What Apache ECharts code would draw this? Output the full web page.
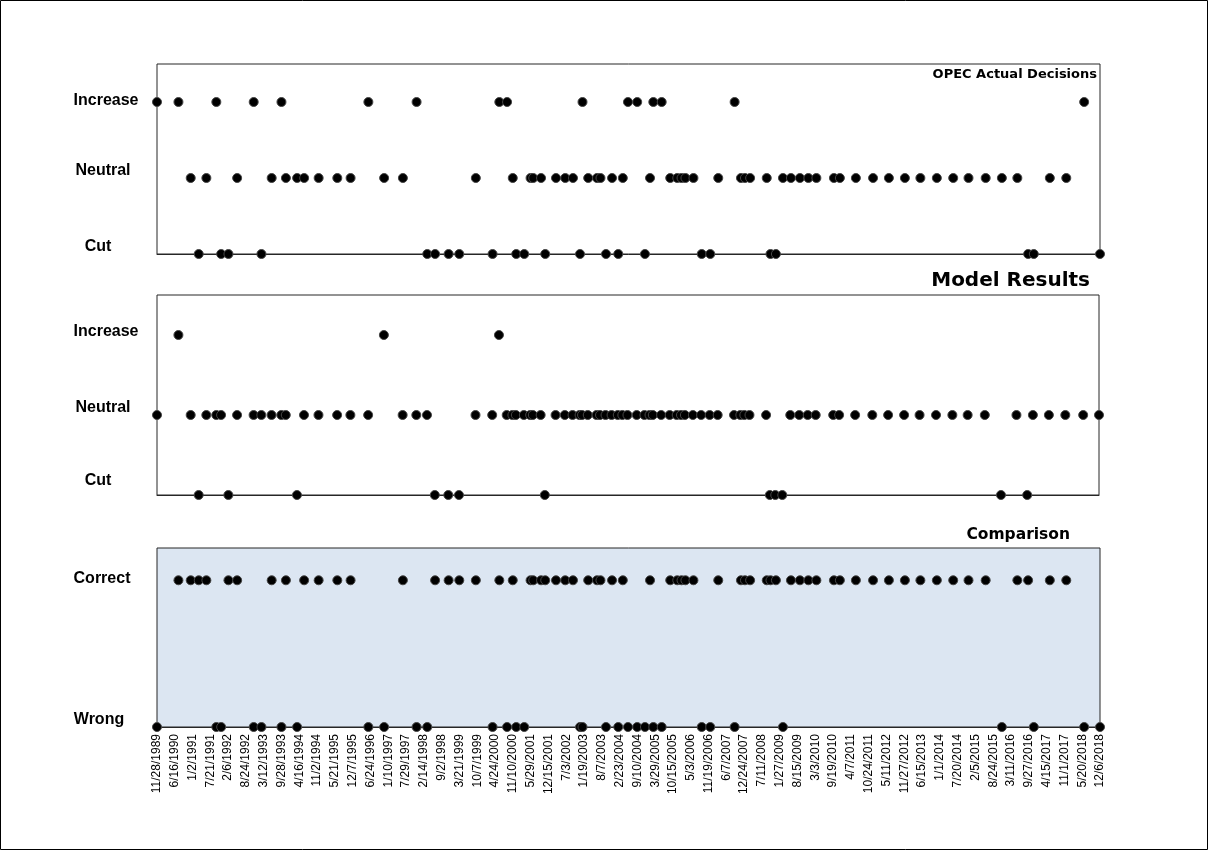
<!DOCTYPE html>
<html>
<head>
<meta charset="utf-8">
<script src="https://cdn.jsdelivr.net/npm/echarts@6.0.0/dist/echarts.min.js"></script>
<style>
  html, body { margin: 0; padding: 0; background: #fff; }
  #chart { width: 1209px; height: 851px; }
</style>
</head>
<body>
<div id="chart"></div>
<script>
// meeting dates (x positions)
const meetingDates = [
  '11/28/1989', '7/27/1990', '12/12/1990', '3/12/1991', '6/6/1991', '9/26/1991', '11/19/1991', '2/9/1992', '5/17/1992', '11/19/1992',
  '2/14/1993', '6/9/1993', '9/27/1993', '11/16/1993', '3/22/1994', '6/9/1994', '11/19/1994', '6/17/1995', '11/13/1995', '5/31/1996',
  '11/24/1996', '6/23/1997', '11/24/1997', '3/24/1998', '6/20/1998', '11/19/1998', '3/19/1999',
  '9/21/1999', '3/27/2000', '6/11/2000', '9/6/2000', '11/9/2000', '12/18/2000', '3/18/2001', '5/28/2001', '6/27/2001', '9/23/2001', '11/9/2001',
  '3/10/2002', '6/22/2002', '9/17/2002', '12/5/2002', '1/2/2003', '3/7/2003', '6/14/2003', '7/23/2003', '9/23/2003', '11/30/2003',
  '2/8/2004', '3/30/2004', '5/27/2004', '9/8/2004', '12/4/2004', '1/30/2005', '3/8/2005', '6/10/2005', '9/14/2005', '12/2/2005',
  '1/19/2006', '3/4/2006', '6/2/2006', '9/3/2006', '12/8/2006', '3/8/2007', '9/8/2007', '11/18/2007', '1/2/2008', '2/29/2008',
  '9/3/2008', '10/15/2008', '12/15/2008', '3/4/2009',
  '6/2/2009', '9/11/2009', '12/15/2009', '3/15/2010', '9/28/2010', '12/4/2010', '6/2/2011', '12/12/2011', '6/7/2012', '12/4/2012',
  '5/27/2013', '11/28/2013', '5/31/2014', '11/19/2014', '5/31/2015', '11/29/2015', '5/21/2016', '9/19/2016', '11/22/2016', '5/21/2017',
  '11/22/2017', '6/11/2018', '12/6/2018'
]

const actualDecisions = [
  'Increase', 'Increase', 'Neutral', 'Cut', 'Neutral', 'Increase', 'Cut', 'Cut', 'Neutral', 'Increase',
  'Cut', 'Neutral', 'Increase', 'Neutral', 'Neutral', 'Neutral', 'Neutral', 'Neutral', 'Neutral', 'Increase',
  'Neutral', 'Neutral', 'Increase', 'Cut', 'Cut', 'Cut', 'Cut',
  'Neutral', 'Cut', 'Increase', 'Increase', 'Neutral', 'Cut', 'Cut', 'Neutral', 'Neutral', 'Neutral', 'Cut',
  'Neutral', 'Neutral', 'Neutral', 'Cut', 'Increase', 'Neutral', 'Neutral', 'Neutral', 'Cut', 'Neutral',
  'Cut', 'Neutral', 'Increase', 'Increase', 'Cut', 'Neutral', 'Increase', 'Increase', 'Neutral', 'Neutral',
  'Neutral', 'Neutral', 'Neutral', 'Cut', 'Cut', 'Neutral', 'Increase', 'Neutral', 'Neutral', 'Neutral',
  'Neutral', 'Cut', 'Cut', 'Neutral',
  'Neutral', 'Neutral', 'Neutral', 'Neutral', 'Neutral', 'Neutral', 'Neutral', 'Neutral', 'Neutral', 'Neutral',
  'Neutral', 'Neutral', 'Neutral', 'Neutral', 'Neutral', 'Neutral', 'Neutral', 'Cut', 'Cut', 'Neutral',
  'Neutral', 'Increase', 'Cut'
]

const modelResults = [
  'Neutral', 'Increase', 'Neutral', 'Cut', 'Neutral', 'Neutral', 'Neutral', 'Cut', 'Neutral', 'Neutral',
  'Neutral', 'Neutral', 'Neutral', 'Neutral', 'Cut', 'Neutral', 'Neutral', 'Neutral', 'Neutral', 'Neutral',
  'Increase', 'Neutral', 'Neutral', 'Neutral', 'Cut', 'Cut', 'Cut',
  'Neutral', 'Neutral', 'Increase', 'Neutral', 'Neutral', 'Neutral', 'Neutral', 'Neutral', 'Neutral', 'Neutral', 'Cut',
  'Neutral', 'Neutral', 'Neutral', 'Neutral', 'Neutral', 'Neutral', 'Neutral', 'Neutral', 'Neutral', 'Neutral',
  'Neutral', 'Neutral', 'Neutral', 'Neutral', 'Neutral', 'Neutral', 'Neutral', 'Neutral', 'Neutral', 'Neutral',
  'Neutral', 'Neutral', 'Neutral', 'Neutral', 'Neutral', 'Neutral', 'Neutral', 'Neutral', 'Neutral', 'Neutral',
  'Neutral', 'Cut', 'Cut', 'Cut',
  'Neutral', 'Neutral', 'Neutral', 'Neutral', 'Neutral', 'Neutral', 'Neutral', 'Neutral', 'Neutral', 'Neutral',
  'Neutral', 'Neutral', 'Neutral', 'Neutral', 'Neutral', 'Cut', 'Neutral', 'Cut', 'Neutral', 'Neutral',
  'Neutral', 'Neutral', 'Neutral'
]

const comparison = [
  'Wrong', 'Correct', 'Correct', 'Correct', 'Correct', 'Wrong', 'Wrong', 'Correct', 'Correct', 'Wrong',
  'Wrong', 'Correct', 'Wrong', 'Correct', 'Wrong', 'Correct', 'Correct', 'Correct', 'Correct', 'Wrong',
  'Wrong', 'Correct', 'Wrong', 'Wrong', 'Correct', 'Correct', 'Correct',
  'Correct', 'Wrong', 'Correct', 'Wrong', 'Correct', 'Wrong', 'Wrong', 'Correct', 'Correct', 'Correct', 'Correct',
  'Correct', 'Correct', 'Correct', 'Wrong', 'Wrong', 'Correct', 'Correct', 'Correct', 'Wrong', 'Correct',
  'Wrong', 'Correct', 'Wrong', 'Wrong', 'Wrong', 'Correct', 'Wrong', 'Wrong', 'Correct', 'Correct',
  'Correct', 'Correct', 'Correct', 'Wrong', 'Wrong', 'Correct', 'Wrong', 'Correct', 'Correct', 'Correct',
  'Correct', 'Correct', 'Correct', 'Wrong',
  'Correct', 'Correct', 'Correct', 'Correct', 'Correct', 'Correct', 'Correct', 'Correct', 'Correct', 'Correct',
  'Correct', 'Correct', 'Correct', 'Correct', 'Correct', 'Wrong', 'Correct', 'Correct', 'Wrong', 'Correct',
  'Correct', 'Wrong', 'Wrong'
]

const decisionLevels = ['Cut', 'Neutral', 'Increase']
const comparisonLevels = ['Wrong', 'Correct']

// x axis: days counted from the first meeting, a tick every 200 days
const START = Date.UTC(1989, 10, 28)
const DAY = 86400000
const X_MAX = 10600
const X_STEP = 200

const toDay = (s) => {
  const [m, d, y] = s.split('/').map(Number)
  return Math.round((Date.UTC(y, m - 1, d) - START) / DAY)
}
const dayLabel = (v) => {
  const t = new Date(START + v * DAY)
  return (t.getUTCMonth() + 1) + '/' + t.getUTCDate() + '/' + t.getUTCFullYear()
}

const toPoints = (values, levels) => meetingDates.map((d, i) => [toDay(d), levels.indexOf(values[i])])

const chart = echarts.init(document.getElementById('chart'))

const labelFont = {
  fontFamily: 'Liberation Sans, Arial, sans-serif',
  fontWeight: 'bold',
  fontSize: 16,
  color: '#000'
}
const titleFont = {
  fontFamily: 'DejaVu Sans, sans-serif',
  fontWeight: 'bold',
  color: '#000'
}

// the category labels sit a little off the dot rows, like hand placed text boxes
// [up, shiftX] per level
const labelNudge = (up, dx) => ({
  ...labelFont,
  padding: [0, dx < 0 ? -2 * dx : 0, 2 * up, dx > 0 ? 2 * dx : 0]
})

const makeX = (gridIndex, showLabels) => ({
  type: 'value',
  gridIndex,
  min: 0,
  max: X_MAX,
  interval: X_STEP,
  axisLine: { show: true, lineStyle: { color: '#262626', width: 1 } },
  axisTick: { show: false },
  splitLine: { show: false },
  axisLabel: showLabels ? {
    show: true,
    rotate: 90,
    margin: 7,
    fontFamily: 'Liberation Sans, Arial, sans-serif',
    fontSize: 12,
    color: '#000',
    formatter: dayLabel
  } : { show: false }
})

const makeY = (gridIndex, levels, max, nudges) => ({
  type: 'value',
  gridIndex,
  min: 0,
  max,
  interval: 1,
  axisLine: { show: false },
  axisTick: { show: false },
  splitLine: { show: false },
  axisLabel: {
    ...labelFont,
    align: 'center',
    margin: 54,
    formatter: (v) => Number.isInteger(v) && levels[v] ? '{l' + v + '|' + levels[v] + '}' : '',
    rich: Object.fromEntries(nudges.map((n, i) => ['l' + i, labelNudge(n[0], n[1])]))
  }
})

const dotStyle = {
  type: 'scatter',
  symbol: 'circle',
  symbolSize: 9,
  clip: false,
  itemStyle: { color: '#000', borderColor: '#454545', borderWidth: 1, opacity: 1 }
}

const option = {
  animation: false,
  backgroundColor: '#fff',
  title: [
    { text: 'OPEC Actual Decisions', right: 112, top: 68, padding: 0, textStyle: { ...titleFont, fontSize: 13 } },
    { text: 'Model Results', right: 119, top: 271, padding: 0, textStyle: { ...titleFont, fontSize: 20 } },
    { text: 'Comparison', right: 139, top: 527, padding: 0, textStyle: { ...titleFont, fontSize: 15.5 } }
  ],
  grid: [
    { left: 157, top: 64, width: 943, height: 190, show: true, borderColor: '#262626', borderWidth: 1 },
    { left: 157, top: 295, width: 942, height: 200, show: true, borderColor: '#262626', borderWidth: 1 },
    { left: 157, top: 548, width: 943, height: 179, show: true, backgroundColor: '#dce6f2', borderColor: '#262626', borderWidth: 1 }
  ],
  xAxis: [makeX(0, false), makeX(1, false), makeX(2, true)],
  yAxis: [
    makeY(0, decisionLevels, 2.5, [[7, -5], [7, 0], [1, 3]]),
    makeY(1, decisionLevels, 2.5, [[14, -5], [7, 0], [3, 3]]),
    makeY(2, comparisonLevels, 1.22, [[7, -4], [2, -1]])
  ],
  graphic: [
    {
      type: 'rect',
      shape: { x: 0.5, y: 0.5, width: 1207, height: 849 },
      style: { fill: null, stroke: '#000', lineWidth: 1 },
      silent: true
    }
  ],
  series: [
    { ...dotStyle, name: 'OPEC Actual Decisions', xAxisIndex: 0, yAxisIndex: 0, data: toPoints(actualDecisions, decisionLevels) },
    { ...dotStyle, name: 'Model Results', xAxisIndex: 1, yAxisIndex: 1, data: toPoints(modelResults, decisionLevels) },
    { ...dotStyle, name: 'Comparison', xAxisIndex: 2, yAxisIndex: 2, data: toPoints(comparison, comparisonLevels) }
  ]
}

chart.setOption(option)
</script>
</body>
</html>
